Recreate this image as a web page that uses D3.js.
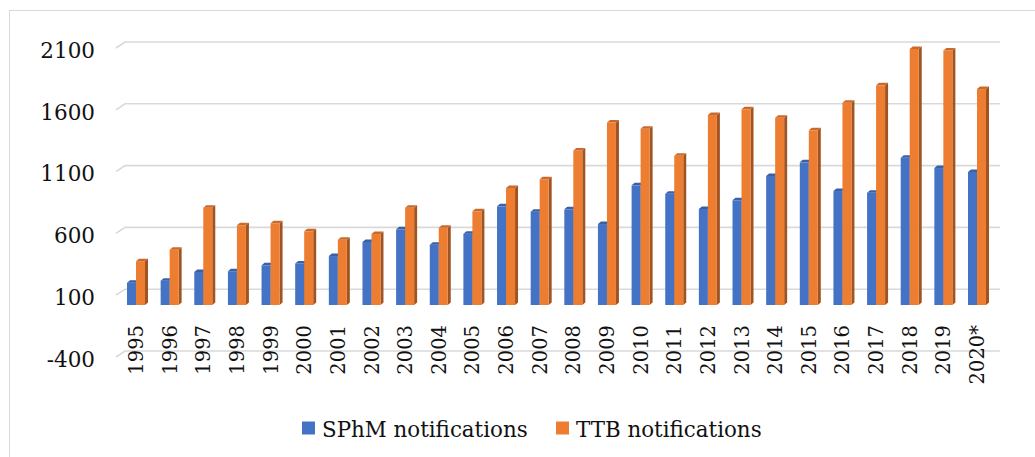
<!DOCTYPE html>
<html>
<head>
<meta charset="utf-8">
<script src="https://cdn.jsdelivr.net/npm/d3@7"></script>
<style>
  html, body { margin: 0; padding: 0; background: #ffffff; }
  svg { display: block; font-family: "DejaVu Serif", serif; }
</style>
</head>
<body>
<svg id="chart" width="1035" height="457"></svg>
<script>
const years = ["1995","1996","1997","1998","1999","2000","2001","2002","2003","2004","2005","2006","2007","2008","2009","2010","2011","2012","2013","2014","2015","2016","2017","2018","2019","2020*"];
const sphm = [180,197,267,273,321,336,396,510,612,488,577,798,755,774,655,968,900,777,847,1044,1154,922,908,1191,1108,1076];
const ttb  = [354,447,787,645,661,596,528,574,787,625,758,947,1017,1250,1476,1426,1207,1537,1583,1515,1413,1637,1777,2071,2059,1747];
const seriesNames = ["SPhM notifications", "TTB notifications"];
const seriesColors = ["#4472C4", "#ED7D31"];
const yTicks = [-400, 100, 600, 1100, 1600, 2100];

const svg = d3.select("#chart");

// outer frame
svg.append("rect").attr("x", 9.5).attr("y", 10.5).attr("width", 1040).attr("height", 460)
  .attr("fill", "none").attr("stroke", "#d9d9d9").attr("stroke-width", 1);

// wall scale (gridlines) and bar scale (front plane)
const y = d3.scaleLinear().domain([-400, 2100]).range([351, 42]);
const pxPerUnit = (351 - 42) / 2500;
const yBar = d3.scaleLinear().domain([0, 1]).range([305, 305 - pxPerUnit]);

const x0 = d3.scalePoint().domain(years).range([136, 977]);
const x1 = d3.scaleBand().domain([0, 1]).range([-9, 9]);

const wallLeft = 125, wallRight = 1000;
const depthX = 3, depthY = -2.5;

// gridlines with left wall lip
const grid = svg.append("g");
yTicks.forEach(t => {
  const gy = y(t);
  grid.append("path")
    .attr("d", `M${wallLeft - 9},${gy + 6} L${wallLeft},${gy} L${wallRight},${gy}`)
    .attr("fill", "none").attr("stroke", "#d9d9d9").attr("stroke-width", 1.6);
});

// y labels
svg.append("g").selectAll("text").data(yTicks).join("text")
  .attr("x", 95).attr("y", d => y(d) + 8).attr("dy", "0.36em")
  .attr("text-anchor", "end").attr("font-size", 21.5).attr("fill", "#111")
  .text(d => d);

// bars
const bars = svg.append("g");
years.forEach((yr, i) => {
  [sphm[i], ttb[i]].forEach((v, s) => {
    const xl = x0(yr) + x1(s);
    const w = x1.bandwidth();
    const yt = yBar(v), yb = yBar(0);
    const c = d3.color(seriesColors[s]);
    bars.append("path")
      .attr("d", `M${xl + w},${yt} L${xl + w + depthX},${yt + depthY} L${xl + w + depthX},${yb + depthY} L${xl + w},${yb} Z`)
      .attr("fill", c.darker(1.1));
    bars.append("rect").attr("x", xl).attr("y", yt).attr("width", w).attr("height", yb - yt)
      .attr("fill", c);
    bars.append("path")
      .attr("d", `M${xl},${yt} L${xl + depthX},${yt + depthY} L${xl + w + depthX},${yt + depthY} L${xl + w},${yt} Z`)
      .attr("fill", c.darker(0.45));
  });
});

// x labels
svg.append("g").selectAll("text").data(years).join("text")
  .attr("transform", d => `translate(${x0(d)},325) rotate(-90)`)
  .attr("text-anchor", "end").attr("dy", "0.36em")
  .attr("font-size", 19.5).attr("fill", "#111")
  .text(d => d);

// legend
const legendX = [302, 556];
const lg = svg.append("g");
seriesNames.forEach((n, s) => {
  lg.append("rect").attr("x", legendX[s]).attr("y", 421.5).attr("width", 13).attr("height", 13)
    .attr("fill", seriesColors[s]);
  lg.append("text").attr("x", legendX[s] + 20).attr("y", 437)
    .attr("font-size", 21.4).attr("fill", "#111").text(n);
});
</script>
</body>
</html>
